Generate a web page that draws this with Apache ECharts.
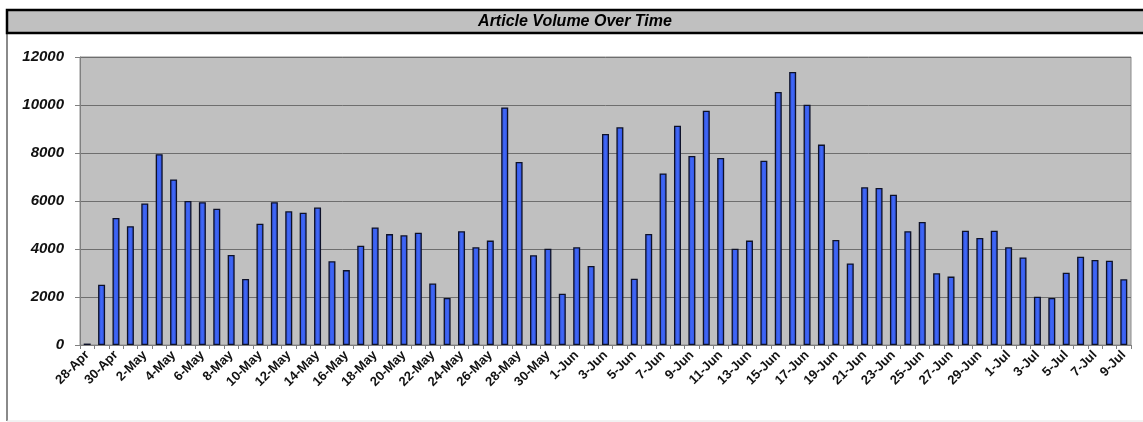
<!DOCTYPE html>
<html>
<head>
<meta charset="utf-8">
<script src="https://cdn.jsdelivr.net/npm/echarts@6/dist/echarts.min.js"></script>
<style>
html,body{margin:0;padding:0;background:#fff;}
#c{width:1143px;height:422px;}
</style>
</head>
<body>
<div id="c"></div>
<script>
const chartTitle = 'Article Volume Over Time';
const categories = [
 '28-Apr','29-Apr','30-Apr',
 '1-May','2-May','3-May','4-May','5-May','6-May','7-May','8-May','9-May','10-May',
 '11-May','12-May','13-May','14-May','15-May','16-May','17-May','18-May','19-May','20-May',
 '21-May','22-May','23-May','24-May','25-May','26-May','27-May','28-May','29-May','30-May','31-May',
 '1-Jun','2-Jun','3-Jun','4-Jun','5-Jun','6-Jun','7-Jun','8-Jun','9-Jun','10-Jun',
 '11-Jun','12-Jun','13-Jun','14-Jun','15-Jun','16-Jun','17-Jun','18-Jun','19-Jun','20-Jun',
 '21-Jun','22-Jun','23-Jun','24-Jun','25-Jun','26-Jun','27-Jun','28-Jun','29-Jun','30-Jun',
 '1-Jul','2-Jul','3-Jul','4-Jul','5-Jul','6-Jul','7-Jul','8-Jul','9-Jul'
];
const articleVolume = [
 60, 2510, 5290,
 4950, 5900, 7950, 6900, 6000, 5950, 5680, 3750, 2750, 5050,
 5950, 5570, 5510, 5730, 3490, 3120, 4140, 4900, 4620, 4570,
 4680, 2560, 1960, 4740, 4070, 4350, 9900, 7630, 3740, 4010, 2140,
 4070, 3290, 8790, 9070, 2760, 4630, 7150, 9140, 7880, 9760,
 7790, 4010, 4350, 7680, 10540, 11380, 10010, 8350, 4380, 3400,
 6570, 6540, 6260, 4740, 5130, 2990, 2850, 4760, 4460, 4760,
 4070, 3650, 2010, 1960, 3010, 3680, 3540, 3510, 2740
];
const yTicks = {min: 0, max: 12000, interval: 2000};

const chart = echarts.init(document.getElementById('c'), null, {renderer: 'canvas'});
chart.setOption({
  animation: false,
  backgroundColor: '#ffffff',
  graphic: [
    {type: 'line', shape: {x1: 7, y1: 10, x2: 7, y2: 421}, style: {stroke: '#8a8a8a', lineWidth: 2}, z: 0},
    {type: 'line', shape: {x1: 7, y1: 421, x2: 1143, y2: 421}, style: {stroke: '#e4e4e4', lineWidth: 1}, z: 0},
    {type: 'rect', shape: {x: 7, y: 10, width: 1140, height: 23}, style: {fill: '#c0c0c0', stroke: '#000', lineWidth: 2.5}, z: 1},
    {type: 'text', x: 575, y: 21.5, style: {text: chartTitle, font: 'italic bold 16px "Liberation Sans", Arial, sans-serif', fill: '#000', align: 'center', verticalAlign: 'middle'}, z: 2}
  ],
  grid: {
    left: 80, right: 12, top: 57, bottom: 77,
    show: true, backgroundColor: '#c0c0c0', borderColor: '#8c8c8c', borderWidth: 1
  },
  xAxis: {
    type: 'category',
    data: categories,
    boundaryGap: true,
    axisLine: {show: true, lineStyle: {color: '#808080', width: 1}},
    axisTick: {show: true, interval: 0, length: 4, lineStyle: {color: '#808080'}},
    axisLabel: {
      interval: 1, rotate: 45, margin: 8,
      fontFamily: '"Liberation Sans", Arial, sans-serif', fontWeight: 'bold', fontSize: 13, color: '#111'
    },
    splitLine: {show: false}
  },
  yAxis: {
    type: 'value',
    min: yTicks.min, max: yTicks.max, interval: yTicks.interval,
    axisLine: {show: true, lineStyle: {color: '#808080', width: 1}},
    axisTick: {show: true, length: 5, lineStyle: {color: '#808080'}},
    axisLabel: {
      margin: 16,
      formatter: function (v) { return String(v); },
      fontFamily: '"Liberation Sans", Arial, sans-serif', fontWeight: 'bold', fontStyle: 'italic', fontSize: 15, color: '#111'
    },
    splitLine: {show: true, lineStyle: {color: '#6e6e6e', width: 1}}
  },
  series: [{
    type: 'bar',
    data: articleVolume,
    barWidth: 7,
    itemStyle: {
      color: {type: 'linear', x: 0, y: 0, x2: 1, y2: 0, colorStops: [
        {offset: 0, color: '#2f4fd8'}, {offset: 0.5, color: '#4068f8'}, {offset: 1, color: '#2f4fd8'}
      ]},
      borderColor: '#0d1128', borderWidth: 1.3
    }
  }]
});
</script>
</body>
</html>
